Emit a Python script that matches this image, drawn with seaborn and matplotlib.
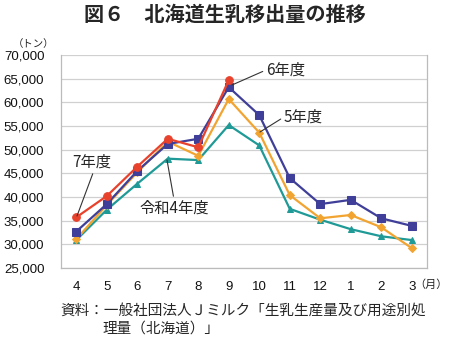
import matplotlib
matplotlib.use("Agg")
import matplotlib.pyplot as plt
import seaborn as sns
import pandas as pd
import numpy as np

months = ["4", "5", "6", "7", "8", "9", "10", "11", "12", "1", "2", "3"]
r4 = [30900, 37300, 42800, 48100, 47800, 55200, 50900, 37500, 35200, 33200, 31700, 30900]
r5 = [31100, 38300, 45200, 51700, 48700, 60700, 53600, 40400, 35500, 36200, 33600, 29200]
r6 = [32700, 38500, 45500, 51200, 52300, 63200, 57300, 44000, 38500, 39400, 35500, 33900]
r7 = [35700, 40200, 46400, 52300, 50500, 64700]
yticks = [25000, 30000, 35000, 40000, 45000, 50000, 55000, 60000, 65000, 70000]

sns.set_theme(style="white")
plt.rcParams['font.family'] = ['Liberation Sans', 'Noto Sans CJK JP']

fig = plt.figure(figsize=(4.5, 3.39), dpi=100)
ax = fig.add_axes([61/450, 1-268/339, (427-61)/450, (268-55)/339])

series = [
    ("令和4年度", r4, "#1F9A96", "^", 5),
    ("5年度", r5, "#F2A431", "D", 4.5),
    ("6年度", r6, "#3F3F99", "s", 5.5),
    ("7年度", r7, "#E8412C", "o", 5.5),
]
for name, vals, col, mk, ms in series:
    df = pd.DataFrame({"x": np.arange(len(vals)), "y": vals})
    sns.lineplot(data=df, x="x", y="y", ax=ax, color=col, marker=mk,
                 markersize=ms, markeredgecolor=col, linewidth=1.6, zorder=3)

ax.set_xlim(-0.5, 11.5)
ax.set_ylim(25000, 70000)
ax.set_yticks(yticks)
ax.set_yticklabels([f"{v:,}" for v in yticks], fontsize=9.5, color="#111111")
ax.set_xticks(np.arange(12))
ax.set_xticklabels(months, fontsize=9.5, color="#111111")
ax.set_xlabel("")
ax.set_ylabel("")
ax.tick_params(axis="x", length=0, pad=9)
ax.tick_params(axis="y", length=0, pad=12)
ax.set_xticks(np.arange(-0.5, 12, 1), minor=True)
ax.tick_params(axis="x", which="minor", length=5, color="#BBBBBB", width=0.8, direction="out")
ax.yaxis.grid(True, color="#D0D0D0", linewidth=0.9)
ax.set_axisbelow(True)
for s in ["left", "right", "bottom"]:
    ax.spines[s].set_color("#BBBBBB")
    ax.spines[s].set_linewidth(0.9)
ax.spines["top"].set_visible(False)

# convert pixel -> data helper for annotation placement
def px(x, y):
    return ((x - 61) / 30.5 - 0.5, 25000 + (268 - y) / 213 * 45000)

lp = dict(arrowstyle="-", color="#333333", lw=0.8, shrinkA=0, shrinkB=0)
ax.annotate("6年度", xy=px(232, 85), xytext=px(266, 70), fontsize=11, ha="left", va="center",
            family=["Noto Sans CJK JP"], arrowprops=dict(lp, relpos=(0, 0.5)))
ax.annotate("5年度", xy=px(260, 132), xytext=px(284, 117), fontsize=11, ha="left", va="center",
            family=["Noto Sans CJK JP"], arrowprops=dict(lp, relpos=(0, 0.5)))
ax.annotate("7年度", xy=px(77, 216), xytext=px(92, 162), fontsize=11, ha="center", va="center",
            family=["Noto Sans CJK JP"], arrowprops=dict(lp, relpos=(0.55, 0)))
ax.annotate("令和4年度", xy=px(167, 160), xytext=px(174, 208), fontsize=11, ha="center", va="center",
            family=["Noto Sans CJK JP"], arrowprops=dict(lp, relpos=(0.5, 1)))

fig.text(0.5, 1-14/339, "図６　北海道生乳移出量の推移", ha="center", va="center",
         fontsize=14.5, fontweight="bold", family=["Noto Sans CJK JP"])
fig.text(34/450, 1-44/339, "（トン）", ha="center", va="center", fontsize=7.5, family=["Noto Sans CJK JP"])
fig.text(431/450, 1-285/339, "（月）", ha="center", va="center", fontsize=8, family=["Noto Sans CJK JP"])
fig.text(60/450, 1-311/339, "資料：一般社団法人Ｊミルク「生乳生産量及び用途別処", ha="left", va="center",
         fontsize=10.5, family=["Noto Sans CJK JP"])
fig.text(102/450, 1-329/339, "理量（北海道）」", ha="left", va="center",
         fontsize=10.5, family=["Noto Sans CJK JP"])

fig.savefig("out.png", dpi=100)
